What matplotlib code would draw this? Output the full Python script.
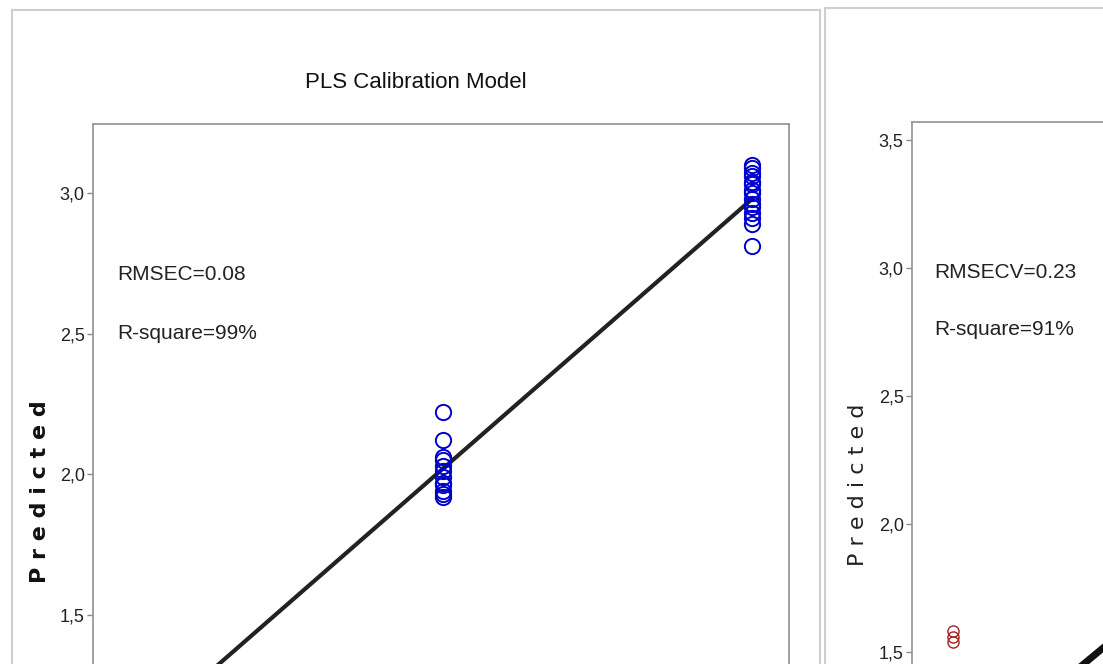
import numpy as np
import matplotlib
matplotlib.use("Agg")
import matplotlib.pyplot as plt
from matplotlib.patches import Rectangle
from matplotlib.ticker import FuncFormatter

plt.rcParams['font.family'] = ['Liberation Sans', 'DejaVu Sans']

# Calibration data (actual vs predicted), visible part of the chart
cal_actual_2 = [2.0] * 12
cal_pred_2 = [2.22, 2.12, 2.06, 2.05, 2.03, 2.01, 1.99, 1.97, 1.96, 1.94, 1.93, 1.92]
cal_actual_3 = [3.0] * 15
cal_pred_3 = [3.10, 3.09, 3.07, 3.06, 3.04, 3.03, 3.01, 3.00, 2.98, 2.96,
              2.95, 2.93, 2.91, 2.89, 2.81]
cal_fit = (0.104, 0.958)       # intercept, slope
cal_fit_x = [1.0, 3.0]

# Cross-validation data (only the lower left corner is visible)
cv_actual = [1.0, 1.0, 1.0]
cv_pred = [1.58, 1.56, 1.54]
cv_fit = (0.03, 1.0)
cv_fit_x = [1.0, 3.0]

cal_yticks = [1.5, 2.0, 2.5, 3.0]
cv_yticks = [1.5, 2.0, 2.5, 3.0, 3.5]

W, H = 1103, 664
fig = plt.figure(figsize=(W / 100, H / 100), dpi=100)


def px_axes(x0, x1, ytop, ylim, px_per_unit):
    # axes placed in pixel coordinates; may run off the bottom / right edge
    ybot = ytop + (ylim[1] - ylim[0]) * px_per_unit
    return fig.add_axes([x0 / W, 1 - ybot / H, (x1 - x0) / W, (ybot - ytop) / H])


comma = FuncFormatter(lambda v, p: f"{v:.1f}".replace('.', ','))

# panel frames
fig.patches.append(Rectangle((12 / W, -0.1), (820 - 12) / W, 1.1 - 10 / H,
                             transform=fig.transFigure, fill=False,
                             edgecolor='#cfcfcf', linewidth=1.5))
fig.patches.append(Rectangle((825 / W, -0.1), 0.5, 1.1 - 8 / H,
                             transform=fig.transFigure, fill=False,
                             edgecolor='#cfcfcf', linewidth=1.5))

# left panel: calibration
ax1 = px_axes(93, 789, 124, (0.8, 3.245), 281.3)
ax1.set_xlim(0.867, 3.12)
ax1.set_ylim(0.8, 3.245)
ax1.plot(cal_fit_x, [cal_fit[0] + cal_fit[1] * x for x in cal_fit_x],
         color='#222222', linewidth=3, zorder=2)
ax1.plot(cal_actual_2 + cal_actual_3, cal_pred_2 + cal_pred_3, 'o',
         markerfacecolor='none', markeredgecolor='#0000cc', markersize=11,
         markeredgewidth=1.4, zorder=3)
ax1.text(0.945, 2.71, 'RMSEC=0.08', fontsize=15, va='center', color='#222222')
ax1.text(0.945, 2.50, 'R-square=99%', fontsize=15, va='center', color='#222222')
ax1.set_yticks(cal_yticks)
ax1.yaxis.set_major_formatter(comma)
ax1.set_xticks([])

# right panel: cross-validation
ax2 = px_axes(912, 912 + 696, 122, (0.8, 3.57), 256)
ax2.set_xlim(0.867, 3.12)
ax2.set_ylim(0.8, 3.57)
ax2.plot(cv_fit_x, [cv_fit[0] + cv_fit[1] * x for x in cv_fit_x],
         color='#111111', linewidth=5, zorder=2)
ax2.plot(cv_actual, cv_pred, 'o', markerfacecolor='none',
         markeredgecolor='#a52020', markersize=8, markeredgewidth=1.0, zorder=3)
ax2.text(0.94, 2.984, 'RMSECV=0.23', fontsize=15, va='center', color='#222222')
ax2.text(0.94, 2.758, 'R-square=91%', fontsize=15, va='center', color='#222222')
ax2.set_yticks(cv_yticks)
ax2.yaxis.set_major_formatter(comma)
ax2.set_xticks([])

for ax in (ax1, ax2):
    for s in ax.spines.values():
        s.set_color('#999999')
        s.set_linewidth(1.3)
    ax.tick_params(axis='y', direction='out', length=4, width=1, color='#888888',
                   labelsize=13, labelcolor='#222222', pad=2)

fig.text(416 / W, 1 - 82 / H, 'PLS Calibration Model', fontsize=16,
         ha='center', va='center', color='#111111')
fig.text(40 / W, 1 - 492 / H, 'P r e d i c t e d', rotation=90, fontsize=16,
         fontweight='bold', family='DejaVu Sans', ha='center', va='center',
         color='#111111')
fig.text(858 / W, 1 - 485 / H, 'P r e d i c t e d', rotation=90, fontsize=16,
         family='DejaVu Sans', ha='center', va='center', color='#222222')

fig.savefig('out.png', dpi=100)
